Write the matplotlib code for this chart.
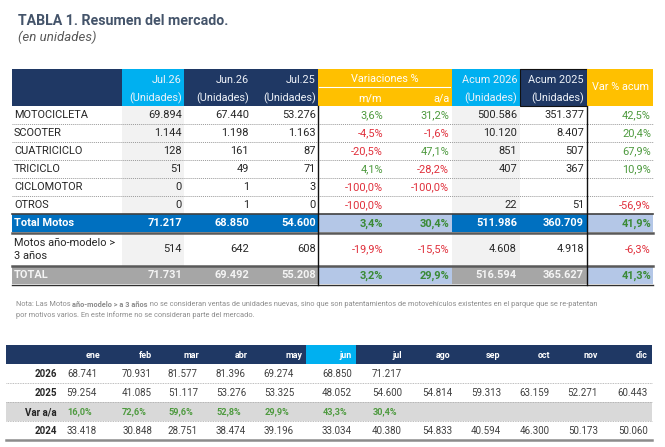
import matplotlib
matplotlib.use("Agg")
import matplotlib.pyplot as plt
from matplotlib.patches import Rectangle

plt.rcParams['font.family'] = ['Roboto', 'DejaVu Sans']

# ---- data: tabla 1 ----
row_labels = ['MOTOCICLETA', 'SCOOTER', 'CUATRICICLO', 'TRICICLO', 'CICLOMOTOR', 'OTROS',
              'Total Motos', 'Motos año-modelo >\n3 años', 'TOTAL']
jul26 = [69894, 1144, 128, 51, 0, 0, 71217, 514, 71731]
jun26 = [67440, 1198, 161, 49, 1, 1, 68850, 642, 69492]
jul25 = [53276, 1163, 87, 71, 3, 0, 54600, 608, 55208]
var_mm = [3.6, -4.5, -20.5, 4.1, -100.0, -100.0, 3.4, -19.9, 3.2]
var_aa = [31.2, -1.6, 47.1, -28.2, -100.0, None, 30.4, -15.5, 29.9]
acum26 = [500586, 10120, 851, 407, None, 22, 511986, 4608, 516594]
acum25 = [351377, 8407, 507, 367, None, 51, 360709, 4918, 365627]
var_acum = [42.5, 20.4, 67.9, 10.9, None, -56.9, 41.9, -6.3, 41.3]

# ---- data: tabla mensual ----
months = ['ene', 'feb', 'mar', 'abr', 'may', 'jun', 'jul', 'ago', 'sep', 'oct', 'nov', 'dic']
y2026 = [68741, 70931, 81577, 81396, 69274, 68850, 71217]
y2025 = [59254, 41085, 51117, 53276, 53325, 48052, 54600, 54814, 59313, 63159, 52271, 60443]
var_yy = [16.0, 72.6, 59.6, 52.8, 29.9, 43.3, 30.4]
y2024 = [33418, 30848, 28751, 38474, 39196, 33034, 40380, 54833, 40594, 46300, 50173, 50060]

NAVY = '#1f3864'
CYAN = '#00b0f0'
AMBER = '#ffc000'
BLUE = '#0070c0'
LBLUE = '#b4c7e7'
SHADE = '#f2f2f2'
GREY = '#a6a6a6'
GREEN = '#4e9a3f'
DGREEN = '#3a8a35'
RED = '#e0303c'
TXT = '#262626'


def fint(v):
    return '' if v is None else f"{v:,}".replace(",", ".")


def fpct(v):
    return '' if v is None else f"{v:.1f}%".replace(".", ",")


def pcolor(v, dark=False):
    if v is None:
        return TXT
    if v < 0:
        return RED
    return DGREEN if dark else GREEN


fig = plt.figure(figsize=(6.65, 4.47), dpi=100)
ax = fig.add_axes([0, 0, 1, 1])
ax.set_xlim(0, 665)
ax.set_ylim(447, 0)
ax.axis('off')


def box(x0, y0, x1, y1, color, **kw):
    ax.add_patch(Rectangle((x0, y0), x1 - x0, y1 - y0, facecolor=color,
                           edgecolor=kw.pop('ec', 'none'), **kw))


# title
ax.text(18, 21, 'TABLA 1. Resumen del mercado.', fontsize=10.2, fontweight='bold',
        color='#44546a', va='center', ha='left')
ax.text(18, 37, '(en unidades)', fontsize=9.5, style='italic', color='#595959',
        va='center', ha='left')

# ---- top table geometry ----
cx = [12, 122, 184, 251, 318, 386, 452, 520, 587, 653]
ry = [106, 124, 142, 160, 178, 196, 214, 232, 266, 284]
hy0, hy1 = 69, 106

# header backgrounds
box(cx[0], hy0, cx[9], hy1, NAVY)
box(cx[1], hy0, cx[2], hy1, CYAN)
box(cx[4], hy0, cx[6], hy1, AMBER)
box(cx[6], hy0, cx[7], hy1, CYAN)
box(cx[7], hy0, cx[8], hy1, NAVY, ec='#111111', lw=0.8)
box(cx[8], hy0, cx[9], hy1, AMBER)
ax.plot([cx[4] + 1, cx[6] - 2], [87, 87], color='white', lw=0.8)

HC = '#eef2f8'
hfs = 7.8
for i, (a, b) in enumerate([('Jul.26', '(Unidades)'), ('Jun.26', '(Unidades)'),
                            ('Jul.25', '(Unidades)')]):
    ax.text(cx[i + 2] - 2, 80, a, fontsize=hfs, color=HC, ha='right', va='center')
    ax.text(cx[i + 2] - 2, 98, b, fontsize=hfs, color=HC, ha='right', va='center')
ax.text((cx[4] + cx[6]) / 2, 79, 'Variaciones %', fontsize=hfs, color='white',
        ha='center', va='center')
ax.text(cx[5] - 4, 98, 'm/m', fontsize=hfs, color='white', ha='right', va='center')
ax.text(cx[6] - 2, 98, 'a/a', fontsize=hfs, color='white', ha='right', va='center')
ax.text(cx[7] - 3, 80, 'Acum 2026', fontsize=hfs, color=HC, ha='right', va='center')
ax.text(cx[7] - 3, 98, '(Unidades)', fontsize=hfs, color=HC, ha='right', va='center')
ax.text(cx[8] - 3, 80, 'Acum 2025', fontsize=hfs, color=HC, ha='right', va='center')
ax.text(cx[8] - 3, 98, '(Unidades)', fontsize=hfs, color=HC, ha='right', va='center')
ax.text((cx[8] + cx[9]) / 2 + 1, 87.5, 'Var % acum', fontsize=hfs, color='white',
        ha='center', va='center')

# body
fs = 7.9
for r in range(len(row_labels)):
    y0, y1 = ry[r], ry[r + 1]
    yc = (y0 + y1) / 2 + 0.5
    kind = 'total' if r == 6 else ('grand' if r == 8 else 'normal')
    if kind == 'normal':
        box(cx[1], y0, cx[2], y1, SHADE)
        box(cx[6], y0, cx[7], y1, SHADE)
        tc, fw = TXT, 'normal'
    else:
        main = BLUE if kind == 'total' else GREY
        box(cx[0], y0, cx[4], y1, main)
        box(cx[4], y0, cx[6], y1, LBLUE)
        box(cx[6], y0, cx[8], y1, main)
        box(cx[8], y0, cx[9], y1, LBLUE)
        tc, fw = ('white' if kind == 'total' else '#f4f4f4'), 'bold'
    ax.text(cx[0] + 2, yc, row_labels[r], fontsize=fs, color=tc, fontweight=fw,
            ha='left', va='center', linespacing=1.45)
    for j, vals in enumerate([jul26, jun26, jul25]):
        ax.text(cx[j + 2] - 2, yc, fint(vals[r]), fontsize=fs, color=tc,
                fontweight=fw, ha='right', va='center')
    dark = kind != 'normal'
    ax.text(cx[5] - 3, yc, fpct(var_mm[r]), fontsize=fs, color=pcolor(var_mm[r], dark),
            fontweight=fw, ha='right', va='center')
    ax.text(cx[6] - 3, yc, fpct(var_aa[r]), fontsize=fs, color=pcolor(var_aa[r], dark),
            fontweight=fw, ha='right', va='center')
    ax.text(cx[7] - 3, yc, fint(acum26[r]), fontsize=fs, color=tc,
            fontweight=fw, ha='right', va='center')
    ax.text(cx[8] - 3, yc, fint(acum25[r]), fontsize=fs, color=tc,
            fontweight=fw, ha='right', va='center')
    ax.text(cx[9] - 2, yc, fpct(var_acum[r]), fontsize=fs,
            color=pcolor(var_acum[r], dark), fontweight=fw, ha='right', va='center')

# row separators
for y in ry[1:6]:
    ax.plot([cx[0], cx[9]], [y, y], color='#9a9a9a', lw=0.7, ls=(0, (1, 1)))
ax.plot([cx[0], cx[9]], [214, 214], color='#404040', lw=1.2)
ax.plot([cx[0], cx[9]], [232.5, 232.5], color='#595959', lw=1.8)
ax.plot([cx[0], cx[9]], [266, 266], color='#595959', lw=1.8)
ax.plot([cx[0], cx[9]], [284.5, 284.5], color='#303030', lw=1.0)
for x in (cx[4], cx[8]):
    ax.plot([x, x], [hy1, 284.5], color='#111111', lw=1.0)

# note
nfs = 5.3
ncol = '#8c8c8c'
fig.canvas.draw()
rend = fig.canvas.get_renderer()
parts = [('Nota: Las Motos ', 'normal'), ('año-modelo > a 3 años', 'bold'),
         (' no se consideran ventas de unidades nuevas, sino que son patentamientos de '
          'motovehículos existentes en el parque que se re-patentan', 'normal')]
x = 16
for s, w in parts:
    t = ax.text(x, 305, s, fontsize=nfs, color=ncol, fontweight=w, ha='left', va='center')
    x = t.get_window_extent(rend).x1
ax.text(16, 315.5, 'por motivos varios. En este informe no se consideran parte del mercado.',
        fontsize=nfs, color=ncol, ha='left', va='center')

# ---- bottom table ----
bx0, bx1 = 6, 652
by = [345, 364, 383, 402, 421, 440]
mcol_edges = [60 + 49.3 * i for i in range(13)]
val_right = [97, 152, 198, 246, 294, 352, 402, 452, 501, 550, 598, 648]
head_right = [100, 152, 199, 248, 303, 352, 402, 450, 500, 550, 598, 648]

box(bx0, by[0], bx1, by[1], NAVY)
box(mcol_edges[5] - 1, by[0], mcol_edges[6], by[1], CYAN)
box(bx0, by[3], bx1, by[4], '#d9d9d9')
for i, m in enumerate(months):
    ax.text(head_right[i], (by[0] + by[1]) / 2 + 0.5, m, fontsize=6.4, fontweight='bold',
            color='white', ha='right', va='center')

bfs = 7.0
rows_b = [('2026', y2026, 'int'), ('2025', y2025, 'int'), ('Var a/a', var_yy, 'pct'),
          ('2024', y2024, 'int')]
for k, (lab, vals, typ) in enumerate(rows_b):
    yc = (by[k + 1] + by[k + 2]) / 2 + 0.5
    ax.text(57, yc, lab, fontsize=bfs, fontweight='bold', color=TXT, ha='right', va='center')
    for i, v in enumerate(vals):
        if typ == 'int':
            ax.text(val_right[i], yc, fint(v), fontsize=bfs, color='#404040',
                    ha='right', va='center')
        else:
            ax.text(val_right[i] - 5, yc, fpct(v), fontsize=6.6, fontweight='bold',
                    color=GREEN, ha='right', va='center')
for y in (by[2], by[3], by[4]):
    ax.plot([bx0, bx1], [y, y], color='#a8a8a8', lw=0.6, ls=(0, (1, 1)))
ax.plot([bx0, bx1], [439.5, 439.5], color='#8c8c8c', lw=1.8)

fig.savefig('out.png', dpi=100)
